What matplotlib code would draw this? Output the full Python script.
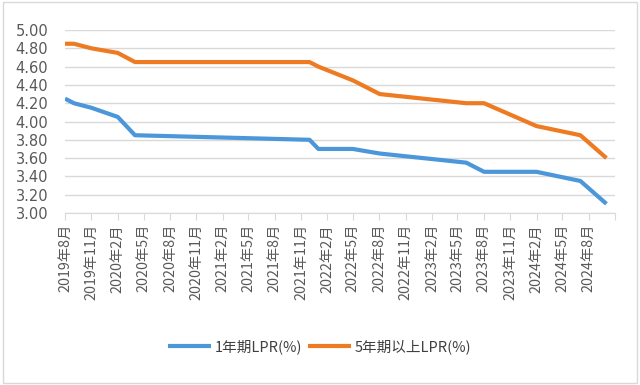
import matplotlib
matplotlib.use("Agg")
import matplotlib.pyplot as plt
from matplotlib.patches import Rectangle
import pandas as pd

plt.rcParams['font.family'] = ['Noto Sans CJK SC', 'DejaVu Sans']

# LPR change dates and rates
dates = ["2019-08-20", "2019-09-20", "2019-11-20", "2020-02-20", "2020-04-20",
         "2021-12-20", "2022-01-20", "2022-05-20", "2022-08-22", "2023-06-20",
         "2023-08-21", "2024-02-20", "2024-07-22", "2024-10-21"]
lpr_1y = [4.25, 4.20, 4.15, 4.05, 3.85, 3.80, 3.70, 3.70, 3.65, 3.55, 3.45, 3.45, 3.35, 3.10]
lpr_5y = [4.85, 4.85, 4.80, 4.75, 4.65, 4.65, 4.60, 4.45, 4.30, 4.20, 4.20, 3.95, 3.85, 3.60]
series_names = ["1年期LPR(%)", "5年期以上LPR(%)"]

x = pd.to_datetime(dates)
tick_dates = pd.date_range("2019-08-01", "2024-11-01", freq="3MS") + pd.Timedelta(days=19)
tick_labels = [f"{d.year}年{d.month}月" for d in tick_dates[:-1]] + [""]

fig = plt.figure(figsize=(6.4, 3.85), dpi=100)
fig.patches.append(Rectangle((0.004, 0.004), 0.992, 0.992, transform=fig.transFigure,
                             fill=False, edgecolor="#d9d9d9", linewidth=1))
ax = fig.add_axes([0.1016, 0.4468, 0.8594, 0.4752])

ax.plot(x, lpr_1y, color="#4C96DA", lw=3, label=series_names[0], solid_capstyle="butt")
ax.plot(x, lpr_5y, color="#EE7A22", lw=3, label=series_names[1], solid_capstyle="butt")

ax.set_xlim(tick_dates[0], tick_dates[-1])
ax.set_ylim(3.0, 5.0)
yt = [3.0 + 0.2 * i for i in range(11)]
ax.set_yticks(yt)
ax.set_yticklabels([f"{v:.2f}" for v in yt], fontsize=10.5, color="#595959",
                   family="DejaVu Sans")
ax.set_xticks(tick_dates)
ax.set_xticklabels(tick_labels, rotation=90, fontsize=10.3, color="#595959")

ax.grid(axis="y", color="#d9d9d9", lw=1)
ax.set_axisbelow(True)
for s in ["top", "right", "left"]:
    ax.spines[s].set_visible(False)
ax.spines["bottom"].set_color("#d9d9d9")
ax.tick_params(axis="y", length=0, pad=12)
ax.tick_params(axis="x", length=5, color="#d9d9d9", pad=3)

fig.legend(loc="center", bbox_to_anchor=(0.5, 0.0987), ncol=2, frameon=False,
           fontsize=10.5, handlelength=2.9, columnspacing=0.4, handletextpad=0.3,
           labelcolor="#404040")

fig.savefig("out.png", dpi=100, facecolor="white")
